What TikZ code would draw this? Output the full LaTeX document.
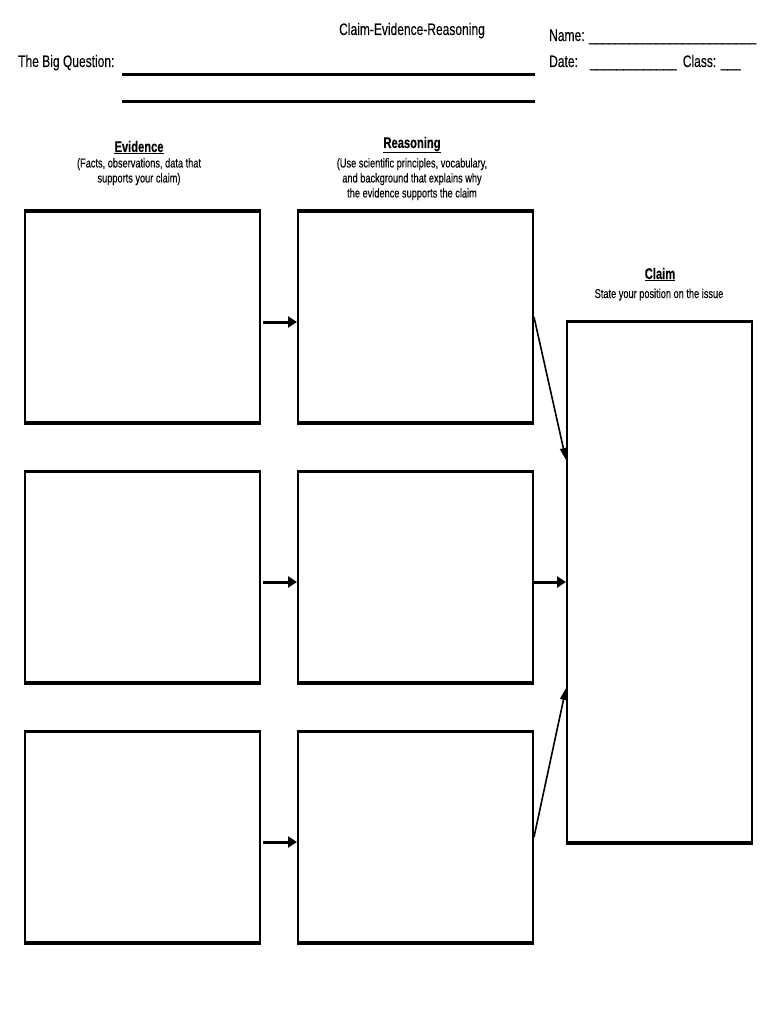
\documentclass[tikz,border=0pt]{standalone}
\usepackage{fontspec}
\setmainfont{Liberation Sans}[FakeStretch=0.72, FakeBold=0.12]
\usetikzlibrary{arrows.meta,positioning}

\tikzset{
  crebox/.style={draw, line width=2pt, inner sep=0pt, minimum width=235pt, minimum height=210pt},
  hdr/.style={font=\fontsize{16.7}{20}\selectfont, inner sep=0pt, anchor=base west},
  colhead/.style={font=\fontsize{15.5}{18}\selectfont\bfseries, inner sep=0pt, anchor=base},
  colnote/.style={font=\fontsize{12.8}{15}\selectfont, inner sep=0pt, align=center, anchor=north},
  fwd/.style={line width=3pt, -{Triangle[length=9pt,width=11pt]}, shorten <=2pt},
  toclaim/.style={line width=1.6pt, -{Triangle[length=12pt,width=7pt]}},
}

\begin{document}
\begin{tikzpicture}[x=1pt, y=-1pt]
\useasboundingbox (0,0) rectangle (770,1024);
% header
\node[hdr, anchor=base] (title) at (412,35) {Claim-Evidence-Reasoning};
\node[hdr] (bigq) at (18,67) {The Big Question:};
\node[hdr] (name) at (549,41) {Name: \_\_\_\_\_\_\_\_\_\_\_\_\_\_\_\_\_\_\_\_\_\_\_\_\_};
\node[hdr] (date) at (549,67) {Date:\hspace{12pt}\_\_\_\_\_\_\_\_\_\_\_\_\_\hspace{6pt}Class: \_\_\_};
\coordinate (q1s) at (122,75); \coordinate (q1e) at (535,75);
\coordinate (q2s) at (122,102); \coordinate (q2e) at (535,102);
\draw[line width=3pt] (q1s) -- (q1e);
\draw[line width=3pt] (q2s) -- (q2e);
% column headings
\node[colhead] (evhead) at (139,152) {\underline{Evidence}};
\node[colnote] (evnote) at (139,158) {(Facts, observations, data that\\supports your claim)};
\node[colhead] (rshead) at (412,148) {\underline{Reasoning}};
\node[colnote] (rsnote) at (412,158) {(Use scientific principles, vocabulary,\\and background that explains why\\the evidence supports the claim};
\node[colhead] (clhead) at (660,279) {\underline{Claim}};
\node[colnote, anchor=base] (clnote) at (659,298) {State your position on the issue};
% boxes
\foreach \r/\y in {1/317,2/577,3/837} {
  \node[crebox] (ev\r) at (142.5,\y) {};
  \node[crebox] (rs\r) at (415.5,\y) {};
}
\node[crebox, minimum width=185pt, minimum height=520pt] (claim) at (659.5,582) {};
\foreach \b in {ev1,ev2,ev3,rs1,rs2,rs3,claim} {
  \draw[line width=3pt] (\b.north west) -- (\b.north east);
  \draw[line width=3pt] (\b.south west) -- (\b.south east);
}
% arrows
\foreach \r in {1,2,3} \draw[fwd] ([yshift=-5pt]ev\r.east) -- ([yshift=-5pt]rs\r.west);
\draw[toclaim] (rs1.east) -- ([yshift=122pt]claim.west);
\draw[fwd, shorten <=0pt] (rs2.east |- claim.west) -- (claim.west);
\draw[toclaim] (rs3.east) -- ([yshift=-106pt]claim.west);
\end{tikzpicture}
\end{document}
